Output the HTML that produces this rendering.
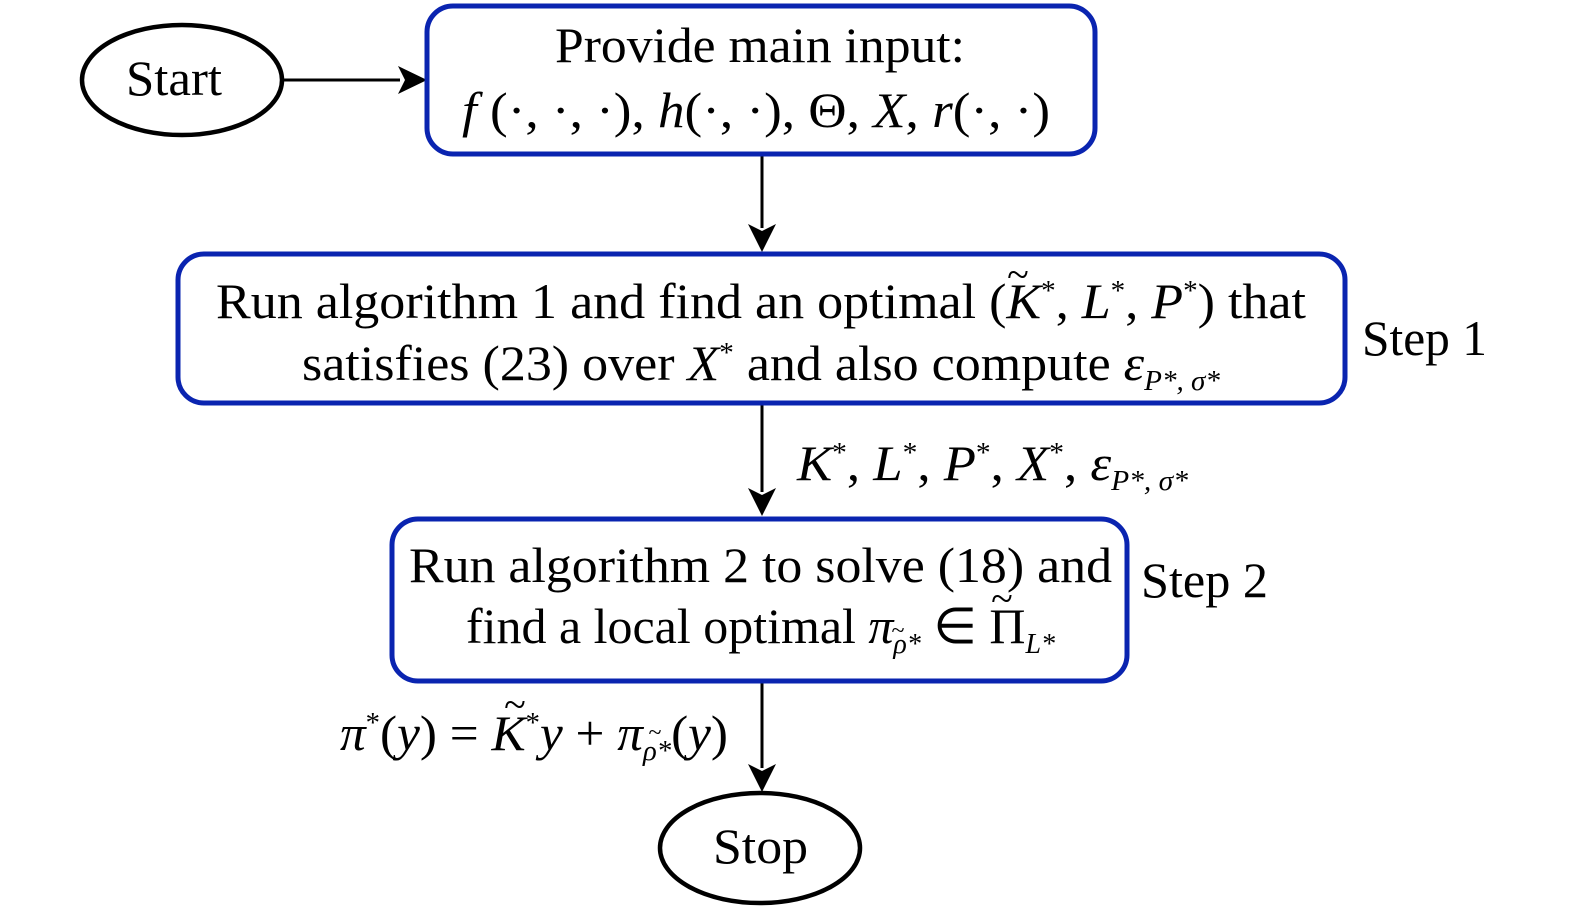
<!DOCTYPE html>
<html><head><meta charset="utf-8"><style>
html,body{margin:0;padding:0;background:#fff;}
svg text{font-family:"Liberation Serif",serif;fill:#000;}
.i{font-style:italic}
</style></head><body>
<svg width="1575" height="911" viewBox="0 0 1575 911" xmlns="http://www.w3.org/2000/svg">
<g stroke="#000" stroke-width="3" fill="none">
<line x1="284" y1="80" x2="400" y2="80"/>
<line x1="762" y1="155" x2="762" y2="228"/>
<line x1="762" y1="404" x2="762" y2="492"/>
<line x1="762" y1="682" x2="762" y2="768"/>
</g>
<g fill="#000">
<path d="M398,66 L427,80 L398,94 L405,80 Z"/>
<path d="M748,224 L762,252 L776,224 L762,231 Z"/>
<path d="M748,488 L762,516 L776,488 L762,495 Z"/>
<path d="M748,764 L762,792 L776,764 L762,771 Z"/>
</g>
<ellipse cx="182" cy="80" rx="100" ry="55" fill="none" stroke="#000" stroke-width="4.5"/>
<ellipse cx="760" cy="848" rx="100" ry="55" fill="none" stroke="#000" stroke-width="4.5"/>
<g fill="none" stroke="#0a24b0" stroke-width="5">
<rect x="427" y="6" width="668" height="148" rx="26"/>
<rect x="178" y="254" width="1167" height="149" rx="26"/>
<rect x="392" y="519" width="735" height="162" rx="26"/>
</g>
<g font-size="50">
<text x="126" y="95" textLength="96" lengthAdjust="spacingAndGlyphs">Start</text>
<text x="713" y="863" textLength="95" lengthAdjust="spacingAndGlyphs">Stop</text>
<text x="555" y="62" textLength="410" lengthAdjust="spacingAndGlyphs">Provide main input:</text>
<text x="462" y="127" textLength="588" lengthAdjust="spacingAndGlyphs"><tspan class="i">f</tspan> (·, ·, ·), <tspan class="i">h</tspan>(·, ·), Θ, <tspan class="i">X</tspan>, <tspan class="i">r</tspan>(·, ·)</text>
<text x="216" y="318" textLength="1090" lengthAdjust="spacingAndGlyphs">Run algorithm 1 and find an optimal (<tspan class="i">K</tspan><tspan font-size="28" dy="-18">*</tspan><tspan dy="18">, </tspan><tspan class="i">L</tspan><tspan font-size="28" dy="-18">*</tspan><tspan dy="18">, </tspan><tspan class="i">P</tspan><tspan font-size="28" dy="-18">*</tspan><tspan dy="18">) that</tspan></text>
<text x="302" y="380" textLength="918" lengthAdjust="spacingAndGlyphs">satisfies (23) over <tspan class="i">X</tspan><tspan font-size="28" dy="-18">*</tspan><tspan dy="18"> and also compute </tspan><tspan class="i">ε</tspan><tspan class="i" font-size="28" dy="10">P*, σ*</tspan></text>
<text x="1362" y="355" textLength="125" lengthAdjust="spacingAndGlyphs">Step 1</text>
<text x="797" y="480" textLength="391" lengthAdjust="spacingAndGlyphs"><tspan class="i">K</tspan><tspan font-size="28" dy="-18">*</tspan><tspan dy="18">, </tspan><tspan class="i">L</tspan><tspan font-size="28" dy="-18">*</tspan><tspan dy="18">, </tspan><tspan class="i">P</tspan><tspan font-size="28" dy="-18">*</tspan><tspan dy="18">, </tspan><tspan class="i">X</tspan><tspan font-size="28" dy="-18">*</tspan><tspan dy="18">, </tspan><tspan class="i">ε</tspan><tspan class="i" font-size="28" dy="10">P*, σ*</tspan></text>
<text x="409" y="582" textLength="703" lengthAdjust="spacingAndGlyphs">Run algorithm 2 to solve (18) and</text>
<text x="466" y="643" textLength="589" lengthAdjust="spacingAndGlyphs">find a local optimal <tspan class="i">π</tspan><tspan class="i" font-size="28" dy="10">ρ*</tspan><tspan dy="-10"> ∈ Π</tspan><tspan class="i" font-size="28" dy="10">L*</tspan></text>
<text x="1141" y="597" textLength="127" lengthAdjust="spacingAndGlyphs">Step 2</text>
<text x="340" y="750" textLength="388" lengthAdjust="spacingAndGlyphs"><tspan class="i">π</tspan><tspan font-size="28" dy="-18">*</tspan><tspan dy="18">(</tspan><tspan class="i">y</tspan>) = <tspan class="i">K</tspan><tspan font-size="28" dy="-18">*</tspan><tspan class="i" dy="18">y</tspan> + <tspan class="i">π</tspan><tspan class="i" font-size="28" dy="10">ρ*</tspan><tspan dy="-10">(</tspan><tspan class="i">y</tspan>)</text>
</g>
<g font-size="40" text-anchor="middle">
<text x="1018" y="288">~</text>
<text x="515" y="718">~</text>
<text x="1002" y="612">~</text>
</g>
<g font-size="24" text-anchor="middle">
<text x="655" y="740">~</text>
<text x="898" y="638">~</text>
</g>
</svg>
</body></html>
